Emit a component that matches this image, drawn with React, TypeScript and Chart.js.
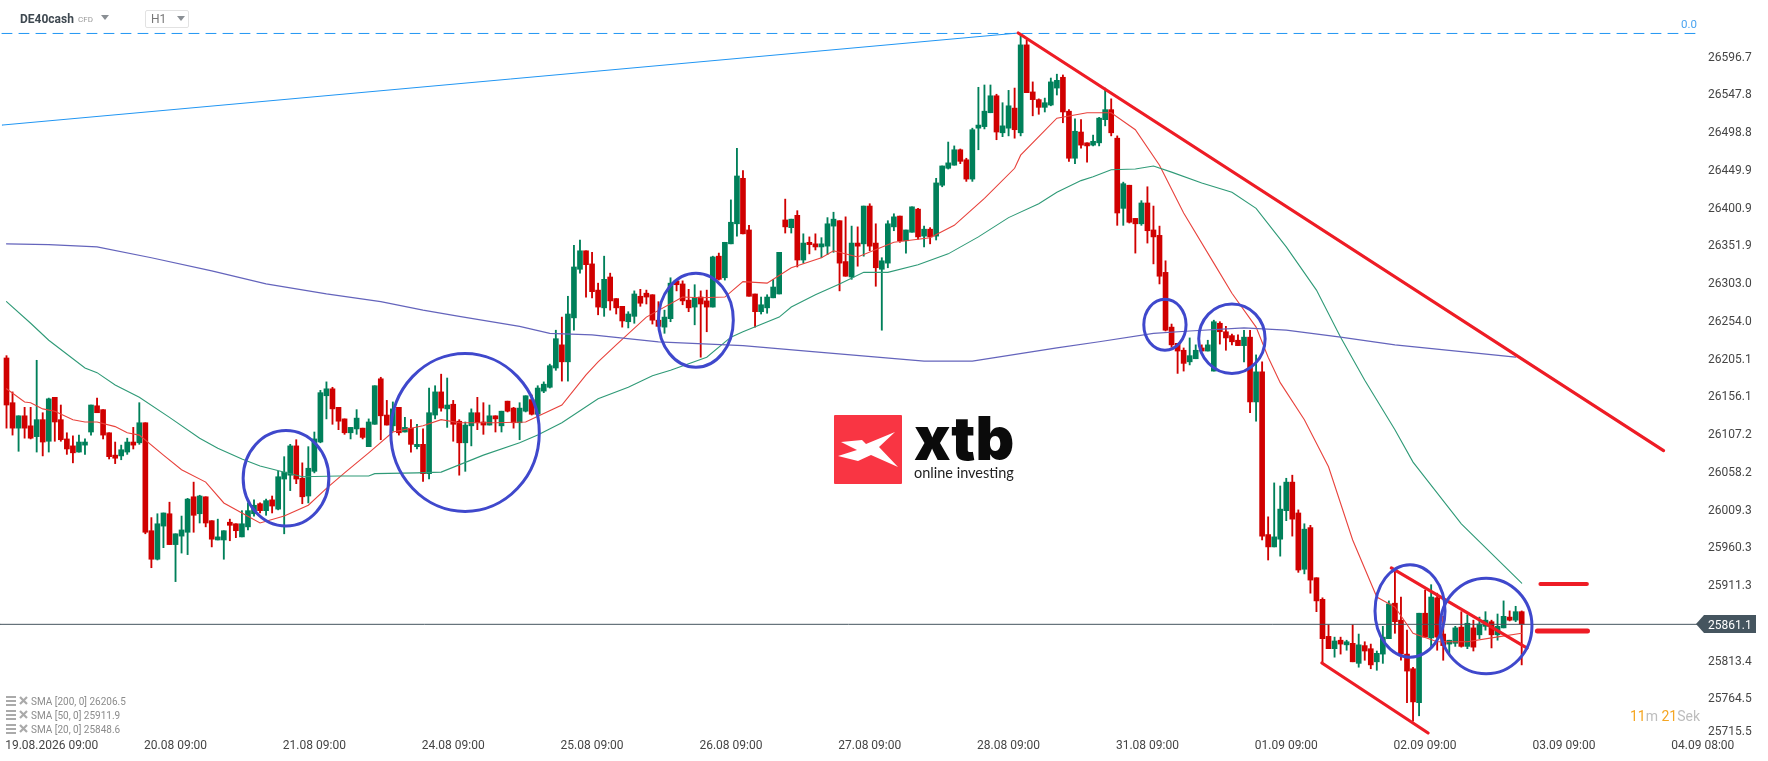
// App.tsx
import { useEffect, useRef } from 'react';
import { Chart, registerables } from 'chart.js';

Chart.register(...registerables);

const opens = [
  26206,26148,26115,26131,26118,26104,26126,26098,26155,26126,
  26101,26092,26084,26093,26110,26144,26139,26109,26080,26079,
  26084,26097,26096,26122,25982,25945,25988,26004,25964,25975,
  25980,26026,26004,26026,25995,25970,25970,25993,25991,25974,
  25987,26004,26017,26008,26022,26010,26049,26054,26092,26050,
  26027,26059,26097,26157,26166,26142,26127,26109,26114,26115,
  26091,26120,26179,26132,26118,26142,26110,26115,26091,26094,
  26056,26132,26162,26140,26146,26124,26096,26118,26135,26123,
  26119,26131,26118,26150,26141,26122,26137,26152,26133,26163,
  26168,26193,26223,26201,26258,26321,26345,26328,26294,26271,
  26311,26283,26273,26253,26260,26286,26290,26288,26255,26246,
  26257,26306,26302,26281,26272,26285,26280,26272,26338,26310,
  26354,26380,26439,26372,26289,26266,26271,26284,26289,26385,
  26375,26391,26333,26356,26354,26350,26351,26377,26384,26331,
  26311,26355,26354,26403,26355,26321,26329,26376,26390,26358,
  26369,26399,26364,26373,26364,26430,26452,26456,26476,26463,
  26438,26504,26506,26524,26546,26498,26504,26530,26498,26612,
  26551,26541,26531,26534,26556,26570,26526,26465,26499,26485,
  26482,26485,26515,26528,26491,26400,26430,26387,26380,26407,
  26372,26365,26317,26246,26225,26216,26201,26205,26219,26215,
  26189,26251,26240,26235,26229,26222,26233,26149,26188,25977,
  25961,25971,26008,26045,26005,25932,25986,25921,25893,25845,
  25829,25840,25834,25836,25810,25833,25829,25812,25822,25842,
  25888,25866,25822,25803,25759,25875,25843,25895,25848,25835,
  25836,25857,25832,25856,25847,25858,25864,25847,25856,25870,25866,25877,
];
const closes = [
  26145,26115,26131,26115,26102,26126,26097,26153,26123,26100,
  26088,26083,26097,26097,26145,26135,26106,26078,26076,26087,
  26097,26093,26122,25980,25945,25991,26005,25964,25978,25983,
  26023,26002,26027,25992,25971,25974,25982,25989,25982,25991,
  26008,26015,26008,26021,26014,26052,26058,26092,26049,26026,
  26063,26101,26161,26166,26140,26124,26109,26116,26128,26103,
  26123,26170,26131,26119,26140,26109,26116,26094,26094,26056,
  26135,26162,26141,26145,26120,26096,26119,26135,26122,26119,
  26131,26127,26137,26137,26122,26141,26157,26133,26167,26172,
  26196,26231,26201,26263,26324,26345,26327,26292,26272,26308,
  26280,26271,26254,26263,26289,26277,26285,26255,26247,26259,
  26303,26301,26280,26271,26284,26276,26272,26337,26308,26356,
  26382,26442,26367,26286,26266,26275,26285,26298,26343,26376,
  26386,26333,26355,26353,26350,26354,26380,26386,26329,26312,
  26355,26351,26403,26351,26323,26332,26380,26389,26358,26372,
  26402,26363,26373,26363,26433,26455,26459,26476,26461,26438,
  26502,26508,26526,26546,26499,26507,26533,26502,26612,26550,
  26541,26531,26537,26564,26566,26525,26465,26500,26482,26481,
  26487,26517,26528,26498,26394,26432,26382,26380,26407,26371,
  26363,26312,26242,26223,26215,26199,26209,26216,26215,26223,
  26253,26240,26232,26227,26222,26233,26149,26188,25975,25961,
  25974,26010,26045,25997,25931,25984,25918,25891,25842,25829,
  25839,25835,25838,25812,25834,25826,25808,25823,25844,25887,
  25864,25822,25800,25760,25875,25844,25896,25844,25833,25840,
  25856,25832,25862,25831,25861,25866,25847,25858,25871,25866,25877,25861,
];
const highs = [
  26209,26162,26131,26142,26142,26203,26135,26154,26155,26145,
  26109,26105,26106,26101,26145,26154,26139,26109,26097,26093,
  26102,26116,26148,26122,25999,26004,26005,26019,25978,26001,
  26024,26045,26028,26026,25995,25997,25982,25997,25991,26008,
  26018,26022,26018,26023,26027,26059,26078,26094,26100,26070,
  26091,26110,26164,26175,26168,26142,26127,26116,26139,26115,
  26127,26170,26181,26151,26149,26142,26129,26126,26120,26114,
  26167,26170,26185,26180,26151,26126,26123,26140,26155,26148,
  26145,26131,26137,26150,26142,26148,26157,26158,26170,26175,
  26198,26242,26259,26286,26352,26359,26345,26343,26303,26338,
  26316,26283,26273,26266,26293,26295,26294,26288,26279,26268,
  26310,26307,26306,26295,26301,26293,26294,26338,26342,26356,
  26411,26478,26449,26378,26289,26285,26288,26308,26343,26412,
  26386,26397,26367,26363,26367,26362,26388,26395,26384,26389,
  26377,26376,26403,26406,26380,26336,26384,26393,26390,26372,
  26402,26400,26377,26375,26439,26455,26486,26481,26477,26465,
  26504,26557,26560,26560,26548,26537,26553,26556,26625,26618,
  26564,26542,26543,26569,26574,26573,26528,26516,26515,26485,
  26495,26518,26556,26542,26494,26434,26430,26387,26410,26428,
  26403,26377,26332,26250,26225,26219,26232,26223,26223,26229,
  26255,26253,26247,26237,26236,26242,26242,26210,26201,26000,
  26044,26040,26050,26054,26009,25991,25989,25921,25895,25860,
  25844,25844,25840,25860,25848,25838,25835,25826,25858,25891,
  25931,25896,25853,25805,25875,25905,25912,25901,25871,25840,
  25858,25877,25873,25866,25870,25877,25866,25874,25891,25878,25884,25878,
];
const lows = [
  26115,26106,26085,26102,26101,26084,26079,26084,26098,26098,
  26081,26070,26084,26081,26106,26135,26101,26075,26069,26074,
  26081,26088,26094,25978,25934,25944,25960,25964,25916,25953,
  25951,25980,25992,25987,25961,25970,25945,25969,25973,25974,
  25983,26001,26005,26002,26005,26009,25978,26034,26043,26017,
  26018,26057,26096,26127,26120,26113,26107,26101,26107,26101,
  26091,26120,26100,26119,26111,26106,26110,26084,26088,26046,
  26049,26127,26137,26116,26098,26054,26059,26092,26113,26107,
  26119,26110,26110,26136,26115,26100,26136,26132,26128,26161,
  26167,26190,26176,26176,26242,26316,26285,26284,26262,26260,
  26268,26263,26246,26245,26251,26273,26276,26250,26247,26238,
  26253,26293,26275,26266,26249,26207,26240,26272,26307,26307,
  26354,26364,26367,26286,26246,26263,26264,26284,26289,26368,
  26368,26324,26329,26341,26346,26336,26340,26343,26293,26312,
  26308,26325,26338,26345,26299,26242,26323,26371,26356,26342,
  26369,26360,26350,26354,26359,26428,26451,26456,26458,26435,
  26435,26476,26503,26524,26489,26493,26494,26491,26494,26550,
  26520,26522,26525,26533,26547,26511,26461,26458,26478,26460,
  26481,26481,26507,26494,26378,26378,26381,26342,26378,26355,
  26328,26302,26241,26220,26186,26189,26197,26205,26215,26215,
  26189,26224,26216,26223,26222,26201,26135,26124,25970,25944,
  25961,25949,25995,25975,25928,25926,25901,25877,25810,25829,
  25818,25822,25827,25812,25805,25814,25803,25801,25810,25842,
  25849,25814,25759,25735,25742,25844,25830,25827,25814,25822,
  25832,25831,25829,25826,25842,25853,25830,25840,25856,25865,25864,25808,
];

// moving averages at the candle numbers in the Idx lists
const sma200Idx = [0,7,15,24,34,43,53,62,69,75,85,90,97,108,122,134,152,160,174,181,190,196,205,212,221,230,250];
const sma200Val = [26354,26353,26350,26336,26319,26302,26289,26279,26268,26260,26247,26238,26236,26227,26222,26214,26202,26202,26219,26227,26238,26241,26245,26242,26233,26223,26207];

const sma50Idx = [0,4,7,13,15,18,22,27,32,35,39,42,49,55,60,61,68,72,79,85,88,92,98,103,107,110,116,120,122,128,130,134,138,142,146,151,156,161,166,171,174,178,180,183,187,190,193,198,203,207,212,217,221,225,230,233,241,251];
const sma50Val = [26279,26251,26229,26193,26187,26171,26155,26129,26102,26089,26075,26066,26052,26053,26053,26056,26057,26058,26080,26096,26106,26122,26153,26168,26183,26190,26207,26233,26240,26259,26272,26288,26302,26317,26317,26327,26341,26363,26388,26406,26421,26436,26441,26450,26451,26455,26447,26433,26421,26400,26350,26294,26233,26177,26113,26071,25991,25914];

const sma20Idx = [0,3,4,6,8,11,13,15,18,20,22,26,29,33,36,39,42,46,50,53,56,60,64,69,72,75,81,86,92,96,98,101,106,112,115,119,122,126,130,135,137,141,147,153,157,162,167,168,174,179,183,187,191,195,200,203,207,209,211,215,219,223,227,230,233,237,242,246,251];
const sma20Val = [26166,26149,26148,26140,26137,26126,26123,26123,26117,26109,26106,26080,26061,26045,26018,26005,25992,26001,26015,26037,26057,26083,26110,26118,26126,26122,26122,26123,26145,26184,26201,26223,26259,26285,26284,26285,26305,26303,26323,26336,26345,26337,26356,26362,26378,26413,26452,26469,26517,26524,26524,26502,26456,26394,26329,26290,26246,26207,26174,26126,26065,25970,25896,25883,25849,25838,25838,25843,25849];

// y axis: the lowest label sits a little above its level in the original platform
const yTickValues = [26596.7,26547.8,26498.8,26449.9,26400.9,26351.9,26303.0,26254.0,26205.1,26156.1,26107.2,26058.2,26009.3,25960.3,25911.3,25813.4,25764.5,25722];
const yTickLabels = ['26596.7','26547.8','26498.8','26449.9','26400.9','26351.9','26303.0','26254.0','26205.1','26156.1','26107.2','26058.2','26009.3','25960.3','25911.3','25813.4','25764.5','25715.5'];
const xTickValues = [7.5,28,51,74,97,120,143,166,189,212,235,258,281];
const xTickLabels = ['19.08.2026 09:00','20.08 09:00','21.08 09:00','24.08 09:00','25.08 09:00','26.08 09:00','27.08 09:00','28.08 09:00','31.08 09:00','01.09 09:00','02.09 09:00','03.09 09:00','04.09 08:00'];

// drawn objects, candle number / price
const fibLevel = 26626.8;
const lastPrice = 25860.6;
const blueTrendX = [-0.75, 167.6];
const blueTrendY = [26508, 26627.4];
const mainTrendX = [167.6, 274.5];
const mainTrendY = [26627.4, 26085.8];
const lowerTrendX = [217.9, 235.5];
const lowerTrendY = [25810.5, 25719.7];
const channelTrendX = [229.4, 251.9];
const channelTrendY = [25933.7, 25829.9];
const upperMarkX = [254.1, 261.8];
const upperMarkY = [25913, 25913];
const lowerMarkX = [253.6, 261.9];
const lowerMarkY = [25852, 25852];
const circleIdx = [46.3, 75.96, 114.2, 191.9, 203, 232.5, 245.1];
const circlePrice = [26050, 26109.4, 26255, 26249, 26231, 25878, 25858.5];
const circleIdxRadius = [7.1, 12.3, 6.2, 3.5, 5.5, 5.8, 7.6];
const circlePriceRadius = [62, 102.4, 61, 33, 45, 60, 62];

const legendRows = ['SMA [200, 0] 26206.5', 'SMA [50, 0] 25911.9', 'SMA [20, 0] 25848.6'];

const UP = '#00805a';
const DOWN = '#d00000';
const RED_LINE = '#ee1c25';

const toPoints = (xs: number[], ys: number[]) => xs.map((x, i) => ({ x, y: ys[i] }));

const lineSet = (xs: number[], ys: number[], color: string, width: number, order: number, dash: number[] = []) => ({
  type: 'line' as const,
  data: toPoints(xs, ys),
  borderColor: color,
  borderWidth: width,
  borderDash: dash,
  borderCapStyle: 'round' as const,
  pointRadius: 0,
  tension: 0,
  order,
});

const circlesPlugin = {
  id: 'circles',
  afterDatasetsDraw(chart: any) {
    const { ctx, scales } = chart;
    ctx.save();
    ctx.strokeStyle = '#3f48cc';
    ctx.lineWidth = 3;
    circleIdx.forEach((c, i) => {
      const cx = scales.x.getPixelForValue(c);
      const cy = scales.y.getPixelForValue(circlePrice[i]);
      const rx = scales.x.getPixelForValue(c + circleIdxRadius[i]) - cx;
      const ry = scales.y.getPixelForValue(circlePrice[i] - circlePriceRadius[i]) - cy;
      ctx.beginPath();
      ctx.ellipse(cx, cy, rx, ry, 0, 0, Math.PI * 2);
      ctx.stroke();
    });
    ctx.restore();
  },
};

const label = (left: number, top: number, style: any = {}) => ({
  position: 'absolute' as const,
  left,
  top,
  whiteSpace: 'nowrap' as const,
  fontFamily: 'Roboto, sans-serif',
  ...style,
});

const Triangle = ({ left, top, width = 8, height = 5 }: any) => (
  <svg style={{ position: 'absolute', left, top }} width={width} height={height}>
    <polygon points={`0,0 ${width},0 ${width / 2},${height}`} fill="#8a8f94" />
  </svg>
);

// no automatic room for half a tick label, the axes must span the exact area
const noPadding = (s: any) => {
  s.paddingLeft = 0;
  s.paddingRight = 0;
  s.paddingTop = 0;
  s.paddingBottom = 0;
};

export default function App() {
  const canvasRef = useRef<HTMLCanvasElement>(null);

  useEffect(() => {
    if (!canvasRef.current) return;
    const candleColors = opens.map((o, i) => (closes[i] >= o ? UP : DOWN));

    const chart = new Chart(canvasRef.current, {
      type: 'bar',
      data: {
        datasets: [
          lineSet([-0.75, 280.6], [fibLevel, fibLevel], '#2196f3', 1, 2, [10, 7]),
          lineSet(blueTrendX, blueTrendY, '#2196f3', 1, 2),
          lineSet(mainTrendX, mainTrendY, RED_LINE, 3.2, 1),
          lineSet(lowerTrendX, lowerTrendY, RED_LINE, 3.2, 1),
          lineSet(channelTrendX, channelTrendY, RED_LINE, 3.2, 1),
          lineSet(upperMarkX, upperMarkY, RED_LINE, 4, 1),
          lineSet(lowerMarkX, lowerMarkY, RED_LINE, 5, 1),
          lineSet(sma200Idx, sma200Val, '#6464bc', 1.2, 3),
          lineSet(sma50Idx, sma50Val, '#2f9a77', 1.1, 3),
          lineSet(sma20Idx, sma20Val, '#e8423c', 1.1, 3),
          lineSet([-1.07, 280], [lastPrice, lastPrice], '#45555f', 1, 4),
          {
            type: 'bar' as const,
            data: opens.map((o, i) => ({ x: i, y: [o, closes[i]] })),
            backgroundColor: candleColors,
            barThickness: 5,
            grouped: false,
            order: 5,
          },
          {
            type: 'bar' as const,
            data: opens.map((_, i) => ({ x: i, y: [lows[i], highs[i]] })),
            backgroundColor: candleColors,
            barThickness: 1.2,
            grouped: false,
            order: 6,
          },
        ] as any,
      },
      options: {
        responsive: false,
        animation: false,
        events: [],
        layout: { padding: 0 },
        plugins: { legend: { display: false }, tooltip: { enabled: false } },
        scales: {
          x: {
            type: 'linear',
            position: 'bottom',
            offset: false,
            min: -1.077,
            max: 281.2,
            grid: { display: false, drawTicks: false, offset: false },
            border: { display: false },
            afterBuildTicks: (s: any) => { s.ticks = xTickValues.map(value => ({ value })); },
            afterFit: (s: any) => { s.height = 23; noPadding(s); },
            ticks: {
              autoSkip: false,
              maxRotation: 0,
              minRotation: 0,
              padding: 1,
              color: '#454545',
              font: { family: 'Roboto', size: 12 },
              callback: (_v: any, i: number) => xTickLabels[i],
            },
          },
          y: {
            type: 'linear',
            position: 'right',
            min: 25713.2,
            max: 26670.2,
            grid: { display: false, drawTicks: false },
            border: { display: false },
            afterBuildTicks: (s: any) => { s.ticks = yTickValues.map(value => ({ value })); },
            afterFit: (s: any) => { s.width = 64; noPadding(s); },
            ticks: {
              autoSkip: false,
              padding: 4,
              labelOffset: 1,
              color: '#454545',
              font: { family: 'Roboto', size: 12 },
              callback: (_v: any, i: number) => yTickLabels[i],
            },
          },
        },
      },
      plugins: [circlesPlugin],
    } as any);

    return () => chart.destroy();
  }, []);

  return (
    <div style={{ position: 'absolute', left: 0, top: 0, width: 1768, height: 761, background: '#fff', overflow: 'hidden' }}>
      <canvas ref={canvasRef} width={1768} height={761} style={{ position: 'absolute', left: 0, top: 0, display: 'block' }} />

      <div style={label(20, 11, { fontSize: 12, fontWeight: 700, color: '#3e4850', lineHeight: '16px' })}>DE40cash</div>
      <div style={label(78, 15, { fontSize: 8, color: '#999', lineHeight: '10px' })}>CFD</div>
      <Triangle left={101} top={15} />
      <div style={{ position: 'absolute', left: 145, top: 10, width: 42, height: 16, border: '1px solid #e2e2e2', borderRadius: 2 }} />
      <div style={label(151, 12, { fontSize: 12, color: '#777', lineHeight: '14px' })}>H1</div>
      <Triangle left={177} top={16} />

      <div style={label(1681, 18, { fontSize: 11.5, color: '#4aa3f0', lineHeight: '13px' })}>0.0</div>

      <svg style={{ position: 'absolute', left: 1696, top: 615 }} width={62} height={18}>
        <polygon points="0,9 8,0 60,0 60,18 8,18" fill="#45555f" />
        <text x={12} y={13.5} fill="#fff" fontFamily="Roboto" fontSize={12}>25861.1</text>
      </svg>

      {legendRows.map((row, i) => (
        <div key={row}>
          <svg style={{ position: 'absolute', left: 6, top: 696 + i * 14 }} width={24} height={11}>
            <rect x={0} y={0} width={10} height={2} fill="#aaa" />
            <rect x={0} y={4} width={10} height={2} fill="#aaa" />
            <rect x={0} y={8} width={10} height={2} fill="#aaa" />
            <path d="M14 1 L21 8 M21 1 L14 8" stroke="#aaa" strokeWidth={2.2} />
          </svg>
          <div style={label(31, 695 + i * 14, { fontSize: 10, color: '#8c8c8c', lineHeight: '14px' })}>{row}</div>
        </div>
      ))}

      <div style={label(1630, 707, { fontSize: 14, lineHeight: '18px', color: '#bdbdbd' })}>
        <span style={{ color: '#f5a623' }}>11</span>m <span style={{ color: '#f5a623' }}>21</span>Sek
      </div>

      {/* logo */}
      <svg style={{ position: 'absolute', left: 834, top: 415 }} width={68} height={69}>
        <rect width={68} height={69} rx={1} fill="#f93543" />
        <polygon points="61,17 45,32 64,52 37,40 24,46 4,41 23,35 7,27 28,25 32,29" fill="#fff" />
      </svg>
      <div style={label(914, 402, { fontFamily: 'Inter', fontWeight: 900, fontSize: 60, lineHeight: '72px', color: '#0b0b0b' })}>xtb</div>
      <div style={label(914, 464, { fontFamily: 'Lato', fontSize: 14.5, lineHeight: '18px', color: '#222' })}>online investing</div>
    </div>
  );
}
